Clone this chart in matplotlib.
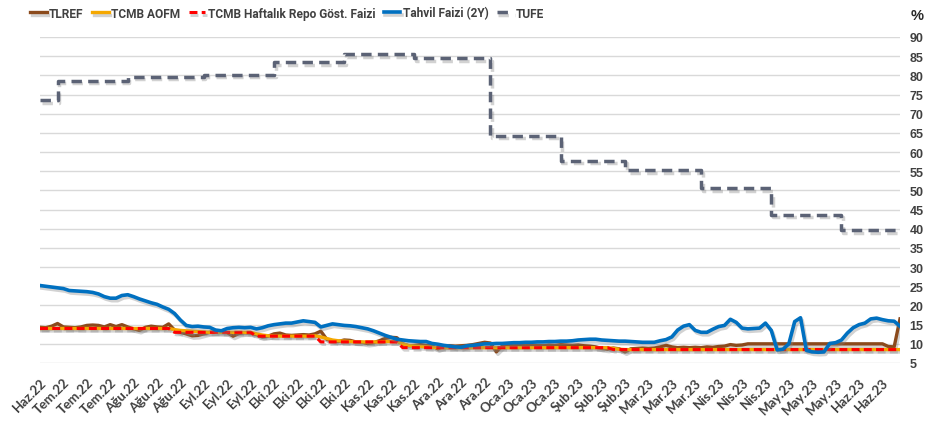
import matplotlib
matplotlib.use("Agg")
import matplotlib.pyplot as plt
import matplotlib.patheffects as pe
import numpy as np

# aylık etiketler (her 4 gözlemde bir)
tick_labels = ["Haz.22", "Tem.22", "Tem.22", "Tem.22", "Ağu.22", "Ağu.22", "Ağu.22",
               "Eyl.22", "Eyl.22", "Eyl.22", "Eki.22", "Eki.22", "Eki.22", "Eki.22",
               "Kas.22", "Kas.22", "Kas.22", "Ara.22", "Ara.22", "Ara.22",
               "Oca.23", "Oca.23", "Oca.23", "Şub.23", "Şub.23", "Şub.23",
               "Mar.23", "Mar.23", "Mar.23", "Nis.23", "Nis.23", "Nis.23",
               "May.23", "May.23", "May.23", "Haz.23", "Haz.23"]
tick_step = 4

# TUFE (yıllık, %) - aylık değer ve geçerli olduğu gözlem sayısı
tufe_values = [73.5, 78.6, 79.6, 80.2, 83.45, 85.5, 84.4, 64.3, 57.7, 55.2, 50.5, 43.7, 39.6]
tufe_counts = [3, 12, 13, 12, 12, 12, 13, 12, 11, 13, 12, 12, 11]

# politika faizi (haftalık repo)
repo_values = [14.0, 13.0, 12.0, 10.5, 9.0, 8.5]
repo_counts = [23, 14, 11, 14, 36, 50]

aofm = ([14.0] * 23 +
        [13.7, 13.5, 13.4, 13.3, 13.2, 13.1, 13.0, 13.0, 13.0, 13.0, 13.0, 13.0, 13.0, 13.0] +
        [12.6, 12.3, 12.1, 12.0, 12.0, 12.0, 12.0, 12.0, 12.0, 12.0, 12.1] +
        [11.8, 11.4, 11.0, 10.8, 10.7, 10.6, 10.5, 10.5, 10.5, 10.5, 10.5, 10.6, 10.6, 10.6] +
        [10.0, 9.6, 9.4, 9.3, 9.2, 9.1] + [9.0] * 30 +
        [8.8, 8.6] + [8.5] * 48)

tlref = [14.3, 14.2, 14.6, 15.3, 14.4, 14.3, 14.2, 14.4, 14.8, 14.9,
         14.8, 14.4, 15.0, 14.5, 15.0, 14.4, 13.9, 13.5, 14.3, 14.6,
         14.4, 14.3, 15.2, 13.6, 13.0, 12.6, 12.1, 12.2, 12.6, 13.0,
         13.1, 13.0, 12.9, 12.0, 12.7, 12.9, 12.8, 12.4, 11.8, 12.0,
         12.6, 12.8, 12.3, 12.2, 12.3, 12.4, 12.3, 12.6, 13.3, 11.2,
         10.8, 10.6, 11.0, 10.9, 10.5, 10.4, 10.1, 10.3, 10.8, 11.4,
         11.7, 11.6, 10.0, 9.5, 9.6, 9.8, 9.6, 9.5, 8.7, 9.3,
         9.5, 9.4, 9.5, 9.6, 9.8, 10.1, 10.4, 10.2, 7.9, 9.4,
         9.6, 9.5, 9.6, 9.5, 9.7, 9.6, 9.5, 9.7, 9.6, 9.8,
         9.7, 9.6, 9.7, 9.5, 9.4, 9.2, 8.8, 8.6, 8.9, 8.7,
         7.9, 8.7, 8.8, 8.9, 8.8, 8.9, 9.2, 9.6, 9.2, 9.0,
         9.1, 9.0, 9.1, 9.0, 9.2, 9.1, 9.3, 9.4, 9.8, 9.6,
         9.7, 10.0, 10.0, 10.0, 10.0, 10.0, 10.0, 10.0, 10.0, 10.0,
         10.0, 10.0, 10.0, 10.0, 10.0, 10.0, 10.0, 10.0, 10.0, 10.0,
         10.0, 10.0, 10.0, 10.0, 10.0, 9.3, 9.2, 16.5]

tahvil_2y = [25.2, 25.0, 24.8, 24.6, 24.4, 23.9, 23.8, 23.7, 23.6, 23.4,
             23.0, 22.3, 21.9, 21.9, 22.6, 22.8, 22.3, 21.7, 21.2, 20.7,
             20.3, 19.6, 19.0, 17.9, 16.2, 14.8, 14.5, 14.6, 14.4, 14.3,
             13.6, 13.4, 14.0, 14.2, 14.3, 14.2, 14.3, 13.9, 14.2, 14.7,
             15.0, 15.2, 15.4, 15.4, 15.7, 16.0, 15.8, 15.6, 14.4, 14.8,
             15.2, 15.0, 14.8, 14.7, 14.5, 14.2, 13.9, 13.4, 12.8, 12.2,
             11.7, 11.2, 11.0, 10.8, 10.7, 10.6, 10.6, 10.1, 9.9, 9.6,
             9.4, 9.2, 9.1, 9.5, 9.6, 9.8, 10.0, 10.0, 10.1, 10.1,
             10.2, 10.3, 10.3, 10.4, 10.4, 10.5, 10.5, 10.6, 10.6, 10.7,
             10.7, 10.8, 11.0, 11.1, 11.2, 11.2, 11.0, 10.9, 10.8, 10.7,
             10.7, 10.6, 10.5, 10.4, 10.4, 10.4, 10.8, 11.1, 11.8, 13.6,
             14.6, 15.0, 13.5, 13.0, 13.0, 13.8, 14.5, 14.8, 16.4, 15.6,
             14.1, 13.9, 14.0, 14.1, 15.4, 13.5, 8.4, 8.6, 10.0, 15.8,
             16.8, 8.3, 7.9, 7.8, 7.9, 10.1, 10.3, 11.0, 12.8, 14.2,
             15.0, 15.4, 16.5, 16.7, 16.3, 16.0, 15.9, 14.6]

tufe = np.repeat(tufe_values, tufe_counts)
repo = np.repeat(repo_values, repo_counts)
x = np.arange(len(tahvil_2y))

fig = plt.figure(figsize=(9.25, 4.31), dpi=100)
ax = fig.add_axes([40 / 925, 67 / 431, 860 / 925, 326 / 431])

shadow = [pe.SimpleLineShadow(offset=(1.2, -1.8), shadow_color="#808080", alpha=0.35),
          pe.Normal()]

ax.plot(x, tlref, color="#8B4A1C", lw=2.4, label="TLREF", path_effects=shadow, zorder=3)
ax.plot(x, aofm, color="#F5A800", lw=2.4, label="TCMB AOFM", path_effects=shadow, zorder=4)
ax.plot(x, repo, color="#FF0000", lw=2.2, ls=(0, (2.6, 1.4)),
        label="TCMB Haftalık Repo Göst. Faizi", path_effects=shadow, zorder=5)
ax.plot(x, tahvil_2y, color="#0070C0", lw=2.6, label="Tahvil Faizi (2Y)",
        path_effects=shadow, zorder=6)
ax.plot(x, tufe, color="#5B6275", lw=2.5, ls=(0, (3, 1.8)), label="TUFE",
        drawstyle="steps-post", path_effects=shadow, zorder=2)

ax.set_xlim(0, len(x) - 1)
ax.set_ylim(5, 90)
ax.set_yticks(np.arange(5, 91, 5))
ax.yaxis.tick_right()
ax.grid(axis="y", color="#D9D9D9", lw=1.0)
ax.set_axisbelow(True)
for s in ax.spines.values():
    s.set_visible(False)
ax.tick_params(axis="both", length=0)
ax.tick_params(axis="y", pad=7, labelsize=9, labelcolor="#404040")
for t in ax.get_yticklabels():
    t.set_fontweight("bold")
    t.set_fontfamily("Liberation Sans")

ax.set_xticks(np.arange(len(tick_labels)) * tick_step)
ax.set_xticklabels(tick_labels, rotation=45, ha="right", rotation_mode="anchor",
                   fontsize=9.5, fontweight="bold", color="#404040", family="Lato")
ax.tick_params(axis="x", pad=9)

fig.text(911 / 925, 1 - 16 / 431, "%", fontsize=10.5, fontweight="bold",
         color="#262626", va="center", ha="left", family="Liberation Sans")

fig.legend(loc="center left", bbox_to_anchor=(30 / 925, 1 - 14 / 431), ncol=5,
           frameon=False, handlelength=1.4, handletextpad=0.2, columnspacing=0.7,
           borderaxespad=0, borderpad=0,
           prop={"family": "Roboto", "weight": "bold", "size": 8.6},
           labelcolor="#404040")

fig.savefig("out.png", dpi=100)
